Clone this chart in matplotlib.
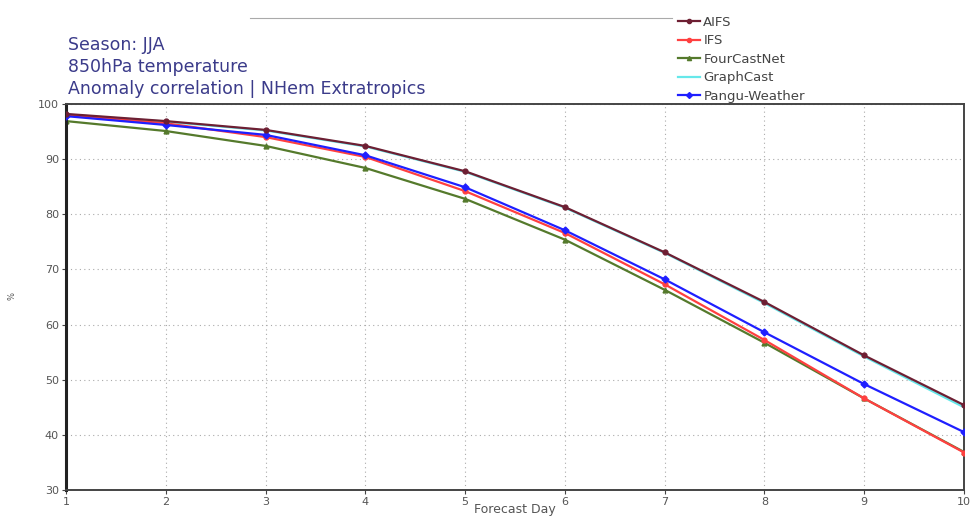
import matplotlib
matplotlib.use("Agg")
import matplotlib.pyplot as plt
from matplotlib.lines import Line2D

days = [1, 2, 3, 4, 5, 6, 7, 8, 9, 10]
aifs = [98.2, 96.9, 95.3, 92.4, 87.8, 81.3, 73.1, 64.1, 54.4, 45.4]
ifs = [98.0, 96.5, 94.0, 90.4, 84.2, 76.6, 67.3, 57.2, 46.6, 36.8]
fourcastnet = [96.9, 95.1, 92.4, 88.4, 82.8, 75.4, 66.3, 56.7, 46.6, 36.9]
graphcast = [98.1, 96.8, 95.2, 92.3, 87.7, 81.2, 73.0, 63.9, 54.2, 45.0]
pangu = [97.8, 96.2, 94.4, 90.7, 84.9, 77.1, 68.2, 58.6, 49.2, 40.5]
yticks = [30, 40, 50, 60, 70, 80, 90, 100]

W, H = 973, 516
fig = plt.figure(figsize=(W / 100, H / 100), dpi=100)
ax = fig.add_axes([66 / W, 1 - 490 / H, (964 - 66) / W, (490 - 104) / H])

series = [
    ("GraphCast", graphcast, "#66e8ea", None, 1),
    ("FourCastNet", fourcastnet, "#557a2c", "^", 2),
    ("IFS", ifs, "#ff4040", "o", 3),
    ("Pangu-Weather", pangu, "#1f1fff", "D", 4),
    ("AIFS", aifs, "#6e1f33", "o", 5),
]
for name, vals, col, mk, z in series:
    ax.plot(days, vals, color=col, lw=1.6, marker=mk, ms=3.5, zorder=z,
            label=name)

ax.set_xlim(1, 10)
ax.set_ylim(30, 100)
ax.set_xticks(days)
ax.set_yticks(yticks)
ax.grid(True, color="#aaaaaa", linestyle=(0, (1, 3)), lw=0.8)
ax.tick_params(labelsize=8, colors="#444444", length=3, pad=2)
for lab in ax.get_xticklabels() + ax.get_yticklabels():
    lab.set_color("#555555")
for s in ["top", "right", "bottom"]:
    ax.spines[s].set_color("#444444")
    ax.spines[s].set_linewidth(1.4)
ax.spines["left"].set_color("#222222")
ax.spines["left"].set_linewidth(2.2)
ax.set_xlabel("Forecast Day", fontsize=9, color="#555555")
ax.xaxis.set_label_coords(0.5, -(509 - 490) / (490 - 104))
ax.xaxis.label.set_va("center")
fig.text(12 / W, 1 - 296 / H, "%", fontsize=6, color="#555555",
         rotation=90, ha="center", va="center")

title_col = "#3b3b8a"
fig.text(68 / W, 1 - 45 / H, "Season: JJA", fontsize=12.5, color=title_col,
         va="center", ha="left")
fig.text(68 / W, 1 - 67 / H, "850hPa temperature", fontsize=12.5,
         color=title_col, va="center", ha="left")
fig.text(68 / W, 1 - 89 / H, "Anomaly correlation | NHem Extratropics",
         fontsize=12.5, color=title_col, va="center", ha="left")

# faint artifact line at the top
fig.add_artist(Line2D([250 / W, 672 / W], [1 - 18 / H, 1 - 18 / H],
                      color="#aaaaaa", lw=0.8, transform=fig.transFigure))

handles = [
    Line2D([], [], color="#6e1f33", lw=1.6, marker="o", ms=3),
    Line2D([], [], color="#ff4040", lw=1.6, marker="o", ms=3),
    Line2D([], [], color="#557a2c", lw=1.6, marker="^", ms=3),
    Line2D([], [], color="#66e8ea", lw=1.6),
    Line2D([], [], color="#1f1fff", lw=1.6, marker="D", ms=3),
]
labels = ["AIFS", "IFS", "FourCastNet", "GraphCast", "Pangu-Weather"]
fig.legend(handles, labels, loc="upper left",
           bbox_to_anchor=(671 / W, 1 - 9 / H), frameon=False,
           fontsize=9.5, handlelength=1.7, handletextpad=0.25,
           labelspacing=0.42, borderpad=0, labelcolor="#444444")

fig.savefig("out.png", dpi=100)
